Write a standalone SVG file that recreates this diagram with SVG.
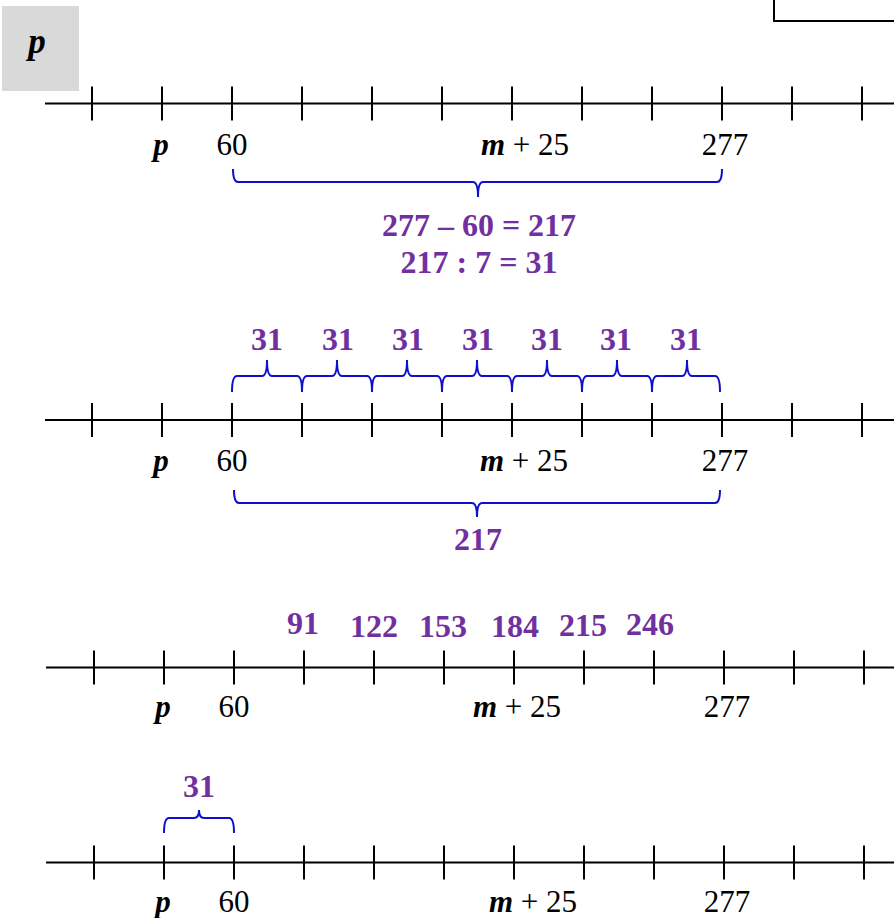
<svg xmlns="http://www.w3.org/2000/svg" width="894" height="918" viewBox="0 0 894 918">
<style>
.ax{stroke:#000;stroke-width:2;fill:none}
.br{stroke:#1010cc;stroke-width:2;fill:none}
.lb{font-family:"Liberation Serif","Times New Roman",serif;font-size:31px;fill:#000;text-anchor:middle}
.it{font-weight:bold;font-style:italic}
.pu{font-family:"Liberation Serif","Times New Roman",serif;font-size:32px;font-weight:bold;fill:#7030a0;text-anchor:middle}
</style>
<defs>
<path id="ticksA" class="ax" d="M92,-17v34M162,-17v34M232,-17v34M302,-17v34M372,-17v34M442,-17v34M512,-17v34M582,-17v34M652,-17v34M722,-17v34M792,-17v34M862,-17v34"/>
</defs>
<rect x="2" y="6" width="77" height="85" fill="#d9d9d9"/>
<text class="lb it" x="37" y="53" style="font-size:35px">p</text>
<rect x="774" y="-5" width="130" height="26" fill="none" stroke="#000" stroke-width="2"/>

<g id="line1">
<line class="ax" x1="45" y1="103.5" x2="894" y2="103.5"/>
<use href="#ticksA" y="103.5"/>
<text class="lb it" x="161" y="155">p</text>
<text class="lb" x="232" y="155">60</text>
<text class="lb" x="525" y="155"><tspan class="it">m</tspan> + 25</text>
<text class="lb" x="725" y="155">277</text>
<path class="br" d="M233,169 Q233,182 238,182 H473 Q478,182 478,197 Q478,182 483,182 H717 Q722,182 722,169"/>
<text class="pu" x="479" y="236">277 – 60 = 217</text>
<text class="pu" x="479" y="273">217 : 7 = 31</text>
</g>

<g id="line2">
<line class="ax" x1="45" y1="420" x2="894" y2="420"/>
<use href="#ticksA" y="420"/>
<text class="lb it" x="161" y="471">p</text>
<text class="lb" x="232" y="471">60</text>
<text class="lb" x="524" y="471"><tspan class="it">m</tspan> + 25</text>
<text class="lb" x="725" y="471">277</text>
<path class="br" d="M232,392 Q232,376 237,376 H262 Q267,376 267,360 Q267,376 272,376 H297 Q302,376 302,392 Q302,376 307,376 H332 Q337,376 337,360 Q337,376 342,376 H367 Q372,376 372,392 Q372,376 377,376 H402 Q407,376 407,360 Q407,376 412,376 H437 Q442,376 442,392 Q442,376 447,376 H472 Q477,376 477,360 Q477,376 482,376 H507 Q512,376 512,392 Q512,376 517,376 H542 Q547,376 547,360 Q547,376 552,376 H577 Q582,376 582,392 Q582,376 587,376 H612 Q617,376 617,360 Q617,376 622,376 H647 Q652,376 652,392 Q652,376 657,376 H682 Q687,376 687,360 Q687,376 692,376 H715 Q720,376 720,392"/>
<text class="pu" x="267" y="350">31</text>
<text class="pu" x="338" y="350">31</text>
<text class="pu" x="408" y="350">31</text>
<text class="pu" x="478" y="350">31</text>
<text class="pu" x="547" y="350">31</text>
<text class="pu" x="616" y="350">31</text>
<text class="pu" x="686" y="350">31</text>
<path class="br" d="M234,490 Q234,503 239,503 H472 Q477,503 477,517 Q477,503 482,503 H715 Q720,503 720,490"/>
<text class="pu" x="478" y="550">217</text>
</g>

<g id="line3">
<line class="ax" x1="46" y1="667.5" x2="894" y2="667.5"/>
<use href="#ticksA" x="2" y="667.5"/>
<text class="lb it" x="163" y="717">p</text>
<text class="lb" x="234" y="717">60</text>
<text class="lb" x="517" y="717"><tspan class="it">m</tspan> + 25</text>
<text class="lb" x="727" y="717">277</text>
<text class="pu" x="303" y="634">91</text>
<text class="pu" x="374" y="637">122</text>
<text class="pu" x="443" y="637">153</text>
<text class="pu" x="515" y="637">184</text>
<text class="pu" x="583" y="636">215</text>
<text class="pu" x="650" y="635">246</text>
</g>

<g id="line4">
<line class="ax" x1="46" y1="862.5" x2="894" y2="862.5"/>
<use href="#ticksA" x="2" y="862.5"/>
<text class="lb it" x="163" y="912">p</text>
<text class="lb" x="234" y="912">60</text>
<text class="lb" x="533" y="912"><tspan class="it">m</tspan> + 25</text>
<text class="lb" x="727" y="912">277</text>
<path class="br" d="M164,833 Q164,818 169,818 H194 Q199,818 199,810 Q199,818 204,818 H229 Q234,818 234,833"/>
<text class="pu" x="199" y="797">31</text>
</g>
</svg>
